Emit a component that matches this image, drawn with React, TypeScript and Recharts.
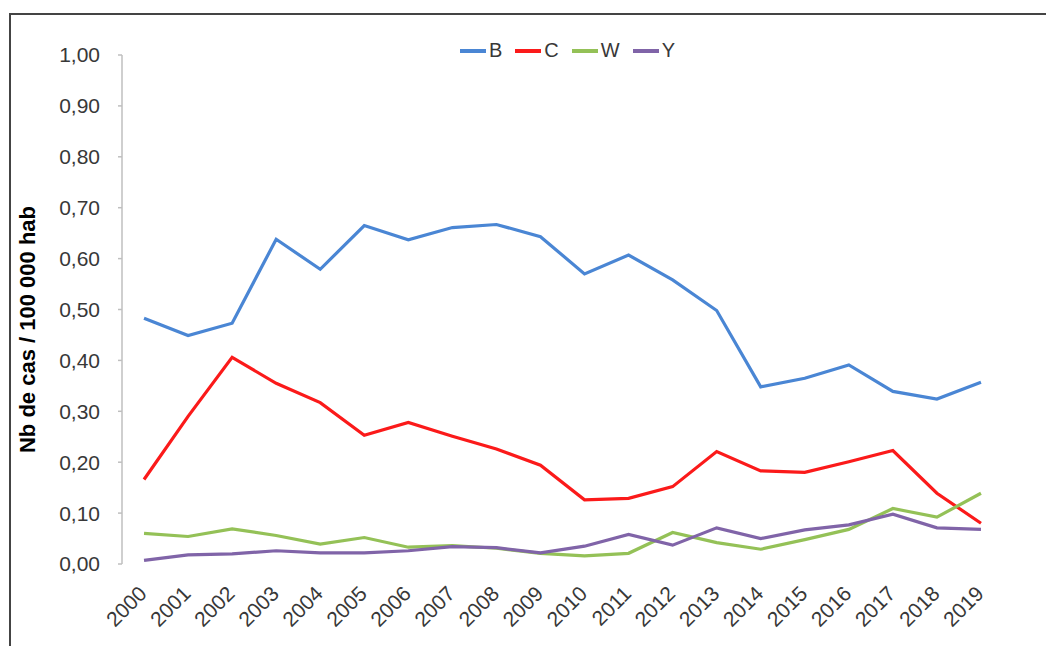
import React from "react";
import { LineChart, Line, XAxis, YAxis, Legend } from "recharts";

const years = [
  "2000", "2001", "2002", "2003", "2004", "2005", "2006", "2007", "2008", "2009",
  "2010", "2011", "2012", "2013", "2014", "2015", "2016", "2017", "2018", "2019",
];

const serieB = [
  0.483, 0.449, 0.473, 0.638, 0.579, 0.665, 0.637, 0.661, 0.667, 0.643,
  0.57, 0.607, 0.558, 0.498, 0.348, 0.365, 0.391, 0.339, 0.324, 0.357,
];
const serieC = [
  0.166, 0.29, 0.406, 0.355, 0.317, 0.253, 0.278, 0.251, 0.226, 0.194,
  0.126, 0.129, 0.152, 0.221, 0.183, 0.18, 0.201, 0.223, 0.139, 0.08,
];
const serieW = [
  0.06, 0.054, 0.069, 0.056, 0.039, 0.052, 0.033, 0.036, 0.031, 0.021,
  0.016, 0.021, 0.062, 0.042, 0.029, 0.048, 0.068, 0.109, 0.092, 0.139,
];
const serieY = [
  0.007, 0.018, 0.02, 0.026, 0.022, 0.022, 0.026, 0.034, 0.032, 0.022,
  0.035, 0.058, 0.037, 0.071, 0.05, 0.067, 0.077, 0.098, 0.071, 0.068,
];

const yTicks = [0, 0.1, 0.2, 0.3, 0.4, 0.5, 0.6, 0.7, 0.8, 0.9, 1];

const series = [
  { key: "B", color: "#4a86d4" },
  { key: "C", color: "#fb1a1a" },
  { key: "W", color: "#94c157" },
  { key: "Y", color: "#8064a8" },
];

const data = years.map((year, i) => ({
  year,
  B: serieB[i],
  C: serieC[i],
  W: serieW[i],
  Y: serieY[i],
}));

// tick marks sit between categories, like in Excel
const boundaryTicks = [...years.map((_, i) => i), years.length];

const FONT = "'Liberation Sans', Arial, sans-serif";
const AXIS_GREY = "#bfbfbf";
const TEXT = "#383838";

const fmt = (v: number) => v.toFixed(2).replace(".", ",");

function YearTick(props: any) {
  const { x, y, payload } = props;
  const tx = x + 4;
  const ty = y + 31;
  return (
    <text
      x={tx}
      y={ty}
      transform={`rotate(-45 ${tx} ${ty})`}
      textAnchor="end"
      fontSize={21}
      fontFamily={FONT}
      fill={TEXT}
    >
      {payload.value}
    </text>
  );
}

function LegendRow(props: any) {
  const items = props.payload || [];
  return (
    <div style={{ display: "flex", alignItems: "center", fontFamily: FONT }}>
      {items.map((it: any) => (
        <div
          key={it.value}
          style={{ display: "flex", alignItems: "center", marginRight: 13 }}
        >
          <span
            style={{
              display: "inline-block",
              width: 26,
              height: 4,
              background: it.color,
              marginRight: 3,
            }}
          />
          <span style={{ fontSize: 20, color: TEXT }}>{it.value}</span>
        </div>
      ))}
    </div>
  );
}

function AxisTitle(props: any) {
  const vb = props.viewBox || {};
  const cx = vb.x - 5;
  const cy = vb.y + vb.height / 2 + 20;
  return (
    <text
      x={cx}
      y={cy}
      transform={`rotate(-90 ${cx} ${cy})`}
      textAnchor="middle"
      dominantBaseline="central"
      fontSize={22}
      fontWeight="bold"
      fontFamily={FONT}
      fill="#000"
    >
      Nb de cas / 100 000 hab
    </text>
  );
}

export default function App() {
  return (
    <div
      style={{
        position: "absolute",
        left: 0,
        top: 0,
        width: 1046,
        height: 646,
        background: "#fff",
        overflow: "hidden",
      }}
    >
      <div
        style={{
          position: "absolute",
          left: 9,
          top: 13,
          width: 1100,
          height: 700,
          borderTop: "2px solid #444",
          borderLeft: "2px solid #444",
        }}
      />
      <LineChart
        width={1046}
        height={646}
        data={data}
        margin={{ top: 55, right: 43, bottom: 22, left: 32 }}
        style={{ position: "absolute", left: 0, top: 0 }}
      >
        <XAxis
          xAxisId="frame"
          type="number"
          domain={[0, years.length]}
          ticks={boundaryTicks}
          allowDataOverflow
          tick={false}
          tickSize={7}
          height={0}
          axisLine={{ stroke: AXIS_GREY, strokeWidth: 1.5 }}
          tickLine={{ stroke: AXIS_GREY, strokeWidth: 1.5 }}
        />
        <XAxis
          xAxisId="cat"
          dataKey="year"
          scale="band"
          interval={0}
          height={60}
          tickSize={0}
          tickMargin={0}
          axisLine={false}
          tickLine={false}
          tick={<YearTick />}
        />
        <YAxis
          domain={[0, 1]}
          ticks={yTicks}
          interval={0}
          width={90}
          tickSize={4}
          tickMargin={18}
          tickFormatter={fmt}
          axisLine={{ stroke: AXIS_GREY, strokeWidth: 1.5 }}
          tickLine={{ stroke: AXIS_GREY, strokeWidth: 1.5 }}
          tick={{ fontSize: 21, fill: TEXT, fontFamily: FONT }}
          label={<AxisTitle />}
        />
        <Legend
          layout="horizontal"
          verticalAlign="middle"
          align="center"
          content={<LegendRow />}
          wrapperStyle={{ top: 39, left: 460, width: "auto", height: "auto" }}
        />
        {series.map((s) => (
          <Line
            key={s.key}
            xAxisId="cat"
            dataKey={s.key}
            type="linear"
            stroke={s.color}
            strokeWidth={3.2}
            dot={false}
            activeDot={false}
            isAnimationActive={false}
          />
        ))}
      </LineChart>
    </div>
  );
}
